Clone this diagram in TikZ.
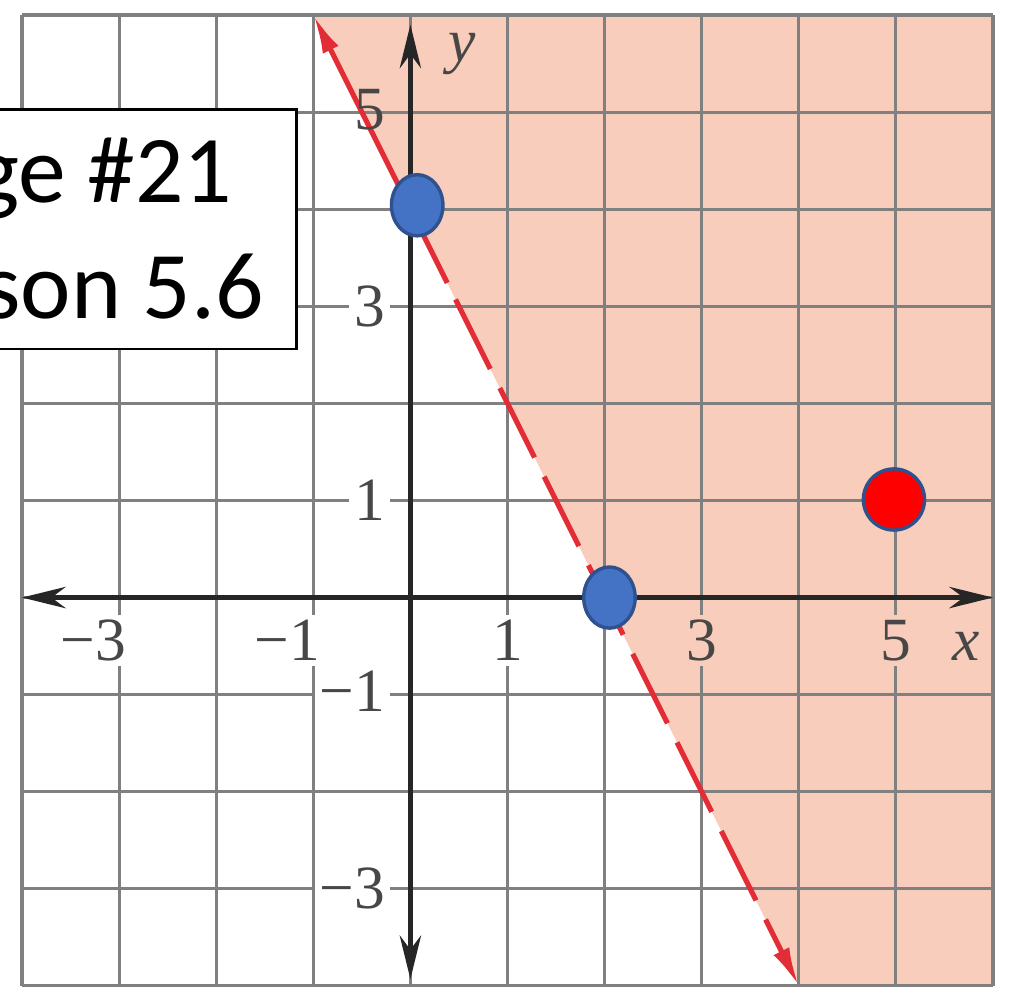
\documentclass[tikz,border=0pt]{standalone}
\usepackage{fontspec}
\setmainfont{Liberation Serif}
\newfontfamily\notefont{Carlito}
\usetikzlibrary{arrows.meta,shapes.geometric}

\definecolor{halfpink}{RGB}{249,205,187}
\definecolor{gridgray}{RGB}{128,128,128}
\definecolor{bndred}{RGB}{226,45,55}
\definecolor{dotblue}{RGB}{68,114,196}
\definecolor{dotedge}{RGB}{47,82,143}

\begin{document}
\begin{tikzpicture}[
  gridln/.style={draw=gridgray,line width=0.9pt},
  axis/.style={{Stealth[length=4.5mm,width=2.2mm]}-{Stealth[length=4.5mm,width=2.2mm]},draw=black!85,line width=1.3pt},
  bound/.style={draw=bndred,line width=1.5pt},
  tick/.style={font=\fontsize{18}{18}\selectfont,text=black!72,inner sep=1.5pt},
  blue dot/.style={ellipse,draw=dotedge,fill=dotblue,line width=1pt,minimum width=0.53cm,minimum height=0.63cm,inner sep=0pt},
  red dot/.style={circle,draw=dotedge,fill=red,line width=1pt,minimum size=0.63cm,inner sep=0pt},
  notebox/.style={draw=black,fill=white,line width=0.7pt,minimum width=5cm,minimum height=2.47cm,inner sep=0pt},
  notetext/.style={font=\notefont\fontsize{28}{34}\selectfont,inner sep=0pt},
]
\useasboundingbox (-4.2265,-4.031) rectangle (6.175,6.154);
\clip (-4.2265,-4.031) rectangle (6.175,6.154);
\fill[white] (-4.2265,-4.031) rectangle (6.175,6.154);

% half plane y > 4 - 2x
\coordinate (ltop) at (-1,6);
\coordinate (lbot) at (4,-4);
\fill[halfpink] (ltop) -- (6,6) -- (6,-4) -- (lbot) -- cycle;
\draw[gridln] (-4,-4) grid (6,6);

% axes
\coordinate (xl) at (-4,0);
\coordinate (xr) at (6,0);
\coordinate (yt) at (0,5.9);
\coordinate (yb) at (0,-3.93);
\draw[axis] (xl) -- (xr);
\draw[axis] (yb) -- (yt);

% boundary line
\coordinate (lsolid) at (0.38,3.24);
\coordinate (ldash) at (0.465,3.07);
\draw[bound,{Latex[length=4mm,width=1.8mm]}-] (ltop) -- (lsolid);
\draw[bound,dash pattern=on 0.8cm off 0.22cm,-{Latex[length=4mm,width=1.8mm]}] (ldash) -- (lbot);

% tick labels
\node[tick,fill=white,anchor=base east] (xm3) at (-2.87,-0.647) {−3};
\node[tick,fill=white,anchor=base east] (xm1) at (-0.87,-0.647) {−1};
\node[tick,fill=white,anchor=base] (x1) at (1,-0.647) {1};
\node[tick,fill=halfpink,anchor=base] (x3) at (3,-0.647) {3};
\node[tick,fill=halfpink,anchor=base] (x5) at (5,-0.647) {5};
\node[tick,fill=halfpink,anchor=base] (xlab) at (5.72,-0.647) {\itshape x};
\node[tick,anchor=east] (y5) at (-0.2,5.02) {5};
\node[tick,fill=white,anchor=east] (y3) at (-0.2,3.0) {3};
\node[tick,fill=white,anchor=east] (y1) at (-0.2,1.0) {1};
\node[tick,fill=white,anchor=east] (ym1) at (-0.2,-0.96) {−1};
\node[tick,fill=white,anchor=east] (ym3) at (-0.2,-3.0) {−3};
\node[tick,anchor=center] (ylab) at (0.53,5.6) {\itshape y};

% points
\node[blue dot] (yint) at (0.07,4.04) {};
\node[blue dot] (xint) at (2.05,0) {};
\node[red dot] (test) at (4.98,1.01) {};

% note
\node[notebox,anchor=north east] (note) at (-1.16,5.04) {};
\node[notetext,anchor=base east] (page) at (-1.83,4.066) {ge \#21};
\node[notetext,anchor=base east] (lesson) at (-1.50,2.872) {son 5.6};
\end{tikzpicture}
\end{document}
